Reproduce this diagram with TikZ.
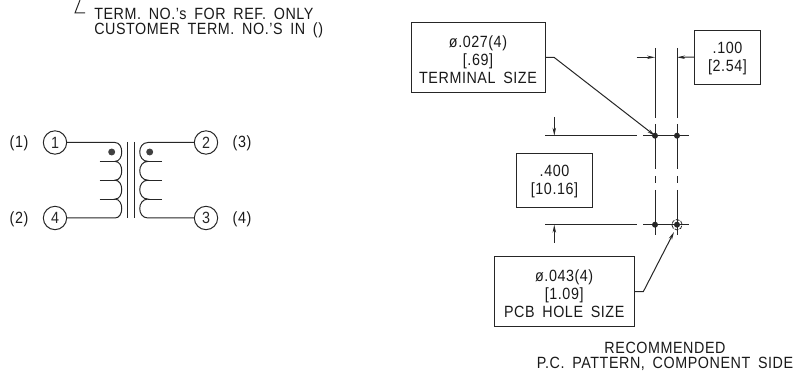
\documentclass[tikz,border=0pt]{standalone}
\usepackage{fontspec}
\setmainfont{Liberation Sans}[WordSpace=1.7,LetterSpace=3.5,FakeStretch=0.88]
\usetikzlibrary{arrows.meta}
\newcommand{\upstrut}{\rule{0pt}{13pt}}
\tikzset{
  cadline/.style={line width=0.75pt,black!85},
  lbl/.style={inner sep=0pt,font=\fontsize{12.2pt}{13.6pt}\selectfont,align=center,text=black!90},
  bx/.style={draw,line width=0.75pt,black!85,lbl,text=black!90,text depth=1pt},
  term/.style={draw,circle,line width=0.75pt,black!85,minimum size=17.5pt,inner sep=0pt,font=\fontsize{12.2pt}{13pt}\selectfont},
  dimtip/.style={-{Stealth[length=6pt,width=2.6pt]}},
  pad/.style={circle,fill=black!85,minimum size=4.5pt,inner sep=0pt},
  coildot/.style={circle,fill=black!75,minimum size=5.2pt,inner sep=0pt},
}
\begin{document}
\begin{tikzpicture}[x=0.75pt,y=-0.75pt]
\useasboundingbox (0,0) rectangle (794,377);
% note
\coordinate (t1) at (80,0); \coordinate (t2) at (75,13); \coordinate (t3) at (85,13);
\draw[cadline] (t1) -- (t2) -- (t3);
\node[lbl,anchor=base west] (note1) at (94,19.3) {TERM. NO.'s FOR REF. ONLY};
\node[lbl,anchor=base west] (note2) at (94,34.6) {CUSTOMER TERM. NO.'S IN ()};
% terminals
\node[term] (T1) at (55,142.5) {1};
\node[term] (T4) at (55,218) {4};
\node[term] (T2) at (206,142.5) {2};
\node[term] (T3) at (206,218) {3};
\node[lbl] (c1) at (19,143) {(1)};
\node[lbl] (c2) at (19,219) {(2)};
\node[lbl] (c3) at (242,143) {(3)};
\node[lbl] (c4) at (242,219) {(4)};
% coils
\coordinate (La) at (115,142.5); \coordinate (Lb) at (115,161.4); \coordinate (Lc) at (115,180.2); \coordinate (Ld) at (115,199.1); \coordinate (Le) at (115,218);
\coordinate (Ra) at (148,142.5); \coordinate (Rb) at (148,161.4); \coordinate (Rc) at (148,180.2); \coordinate (Rd) at (148,199.1); \coordinate (Re) at (148,218);
\draw[cadline] (T1) -- (La)
  .. controls (124,142.5) and (124,161.4) .. (Lb)
  .. controls (124,161.4) and (124,180.2) .. (Lc)
  .. controls (124,180.2) and (124,199.1) .. (Ld)
  .. controls (124,199.1) and (124,218) .. (Le) -- (T4);
\draw[cadline] (T2) -- (Ra)
  .. controls (137,142.5) and (137,161.4) .. (Rb)
  .. controls (137,161.4) and (137,180.2) .. (Rc)
  .. controls (137,180.2) and (137,199.1) .. (Rd)
  .. controls (137,199.1) and (137,218) .. (Re) -- (T3);
\draw[cadline] (99.5,161.4) -- (Lb) (99.5,180.2) -- (Lc) (99.5,199.1) -- (Ld);
\draw[cadline] (162,161.4) -- (Rb) (162,180.2) -- (Rc) (162,199.1) -- (Rd);
\draw[cadline] (127.7,142) -- (127.7,218) (134,142) -- (134,218);
\node[coildot] (dotL) at (111.7,152) {};
\node[coildot] (dotR) at (149.7,152) {};
% boxes
\node[bx,minimum width=100.5pt,minimum height=52.5pt] (box1) at (478,57.3) {\upstrut\char"00F8.027(4)\\{}[.69]\\TERMINAL SIZE};
\node[bx,minimum width=49.8pt,minimum height=40.7pt] (box2) at (727.5,57.2) {.100\\{}[2.54]};
\node[bx,minimum width=56.7pt,minimum height=40.5pt] (box3) at (554.5,180.3) {.400\\{}[10.16]};
\node[bx,minimum width=104.8pt,minimum height=52.5pt] (box4) at (564.2,291.7) {\upstrut\char"00F8.043(4)\\{}[1.09]\\PCB HOLE SIZE};
% pads
\node[pad] (p1) at (655,135.7) {};
\node[pad] (p2) at (677,135.7) {};
\node[pad] (p3) at (655,224.7) {};
\node[pad] (p4) at (677,224.7) {};
\draw[line width=0.6pt,black!85,dash pattern=on 3pt off 1pt] (p4) circle[radius=3.9pt];
% centre lines
\draw[cadline] (655,48) -- (655,118) (655,124) -- (655,169) (655,176) -- (655,183) (655,190) -- (655,235.5);
\draw[cadline] (677,48) -- (677,118) (677,124) -- (677,169) (677,176) -- (677,183) (677,190) -- (677,235.5);
\draw[cadline] (545,135.7) -- (636.7,135.7) (643,135.7) -- (689,135.7);
\draw[cadline] (545,224.7) -- (636.7,224.7) (643,224.7) -- (689,224.7);
% dimension arrows
\coordinate (d1) at (636.7,57.3); \coordinate (d1e) at (655,57.3);
\coordinate (d2e) at (677,57.3);
\draw[cadline,dimtip] (d1) -- (d1e);
\draw[cadline,dimtip] (box2.west) -- (d2e);
\coordinate (v1) at (554.3,117); \coordinate (v1e) at (554.3,135.7);
\coordinate (v2) at (554.3,242.7); \coordinate (v2e) at (554.3,224.7);
\draw[cadline,dimtip] (v1) -- (v1e);
\draw[cadline,dimtip] (v2) -- (v2e);
% leaders
\coordinate (k1) at (554,57.3); \coordinate (k4) at (643.3,291.7); \coordinate (h4) at (674,232);
\draw[cadline,dimtip] (box1.east) -- (k1) -- (p1.center);
\draw[cadline,dimtip] (box4.east) -- (k4) -- (h4);
% caption
\node[lbl,anchor=base] (cap1) at (665,353.5) {RECOMMENDED};
\node[lbl,anchor=base] (cap2) at (665,369) {P.C. PATTERN, COMPONENT SIDE};
\end{tikzpicture}
\end{document}
